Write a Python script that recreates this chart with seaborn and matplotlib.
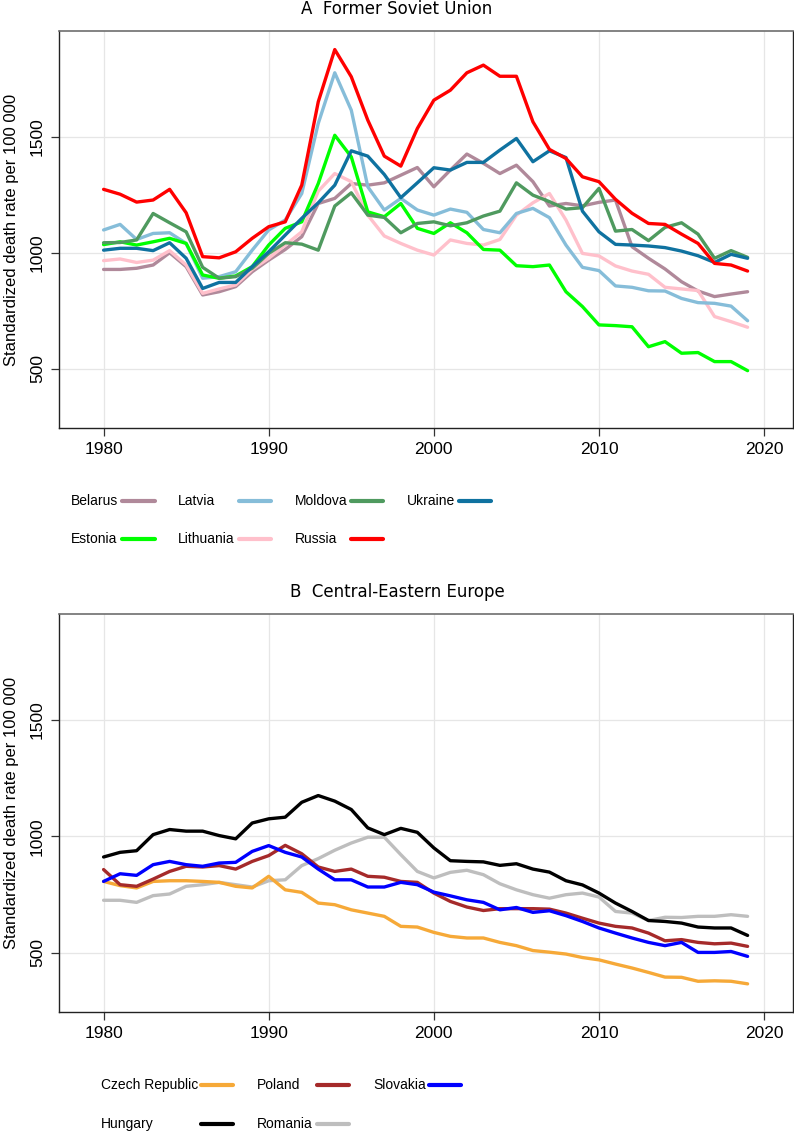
import numpy as np
import pandas as pd
import seaborn as sns
import matplotlib.pyplot as plt
from matplotlib.lines import Line2D

years = list(range(1980, 2020))

# A  Former Soviet Union
belarus = [928, 928, 933, 947, 1000, 940, 818, 832, 854, 918,
           968, 1014, 1069, 1212, 1234, 1298, 1291, 1301, 1334, 1367,
           1284, 1356, 1425, 1385, 1341, 1377, 1306, 1201, 1212, 1202,
           1217, 1227, 1026, 976, 930, 875, 835, 811, 822, 832]
estonia = [1035, 1047, 1033, 1047, 1062, 1040, 904, 890, 900, 940,
           1033, 1105, 1133, 1298, 1506, 1413, 1176, 1155, 1212, 1105,
           1083, 1129, 1086, 1014, 1011, 944, 940, 947, 832, 768,
           689, 686, 681, 595, 617, 567, 570, 531, 531, 492]
latvia = [1098, 1122, 1057, 1083, 1086, 1040, 890, 897, 918, 1011,
          1098, 1141, 1255, 1557, 1775, 1614, 1284, 1184, 1234, 1184,
          1162, 1188, 1174, 1100, 1086, 1169, 1191, 1151, 1033, 937,
          923, 857, 851, 836, 835, 803, 785, 782, 770, 707]
lithuania = [966, 973, 958, 968, 1009, 947, 825, 844, 861, 928,
             976, 1033, 1090, 1265, 1341, 1306, 1162, 1072, 1040, 1011,
             990, 1055, 1040, 1033, 1057, 1162, 1215, 1255, 1141, 997,
             986, 943, 921, 907, 851, 844, 837, 725, 703, 679]
moldova = [1043, 1044, 1055, 1169, 1129, 1090, 937, 890, 897, 933,
           997, 1043, 1037, 1011, 1201, 1258, 1162, 1152, 1086, 1126,
           1133, 1116, 1129, 1158, 1179, 1301, 1248, 1220, 1188, 1194,
           1277, 1093, 1100, 1052, 1109, 1129, 1080, 976, 1009, 980]
russia = [1273, 1252, 1218, 1227, 1273, 1172, 983, 978, 1004, 1062,
          1112, 1133, 1291, 1650, 1875, 1758, 1571, 1416, 1373, 1535,
          1657, 1700, 1775, 1808, 1760, 1760, 1564, 1445, 1406, 1327,
          1306, 1230, 1170, 1126, 1122, 1080, 1040, 954, 947, 921]
ukraine = [1011, 1019, 1019, 1009, 1043, 976, 846, 872, 872, 940,
           1004, 1076, 1148, 1215, 1291, 1439, 1416, 1337, 1237, 1301,
           1366, 1356, 1389, 1389, 1442, 1492, 1392, 1439, 1410, 1179,
           1090, 1036, 1033, 1029, 1022, 1007, 987, 958, 993, 976]

# B  Central-Eastern Europe
czech = [806, 788, 778, 806, 809, 809, 806, 802, 785, 778,
         828, 770, 759, 713, 706, 684, 670, 656, 613, 610,
         587, 570, 563, 563, 544, 530, 509, 502, 494, 479,
         469, 451, 434, 415, 395, 394, 377, 379, 377, 366]
hungary = [911, 931, 938, 1007, 1029, 1022, 1022, 1003, 989, 1057,
           1075, 1082, 1146, 1175, 1151, 1115, 1036, 1007, 1034, 1017,
           950, 895, 892, 890, 875, 882, 859, 846, 809, 791,
           756, 713, 677, 638, 634, 627, 610, 606, 606, 574]
poland = [857, 792, 785, 816, 849, 871, 868, 874, 859, 892,
          917, 961, 925, 868, 849, 859, 828, 824, 806, 802,
          756, 720, 696, 681, 689, 689, 689, 687, 670, 648,
          627, 613, 606, 584, 551, 556, 544, 538, 541, 527]
romania = [725, 725, 716, 745, 752, 785, 792, 802, 792, 782,
           809, 813, 874, 904, 940, 971, 996, 996, 921, 849,
           821, 845, 854, 835, 796, 770, 749, 734, 749, 756,
           739, 677, 670, 638, 652, 651, 656, 656, 663, 656]
slovakia = [806, 839, 832, 878, 892, 878, 871, 885, 888, 935,
            960, 931, 911, 859, 813, 813, 782, 782, 802, 792,
            760, 744, 727, 716, 684, 694, 673, 680, 659, 634,
            606, 584, 563, 544, 530, 544, 501, 501, 505, 484]

fsu_names = ["Belarus", "Estonia", "Latvia", "Lithuania", "Moldova", "Russia", "Ukraine"]
fsu_values = [belarus, estonia, latvia, lithuania, moldova, russia, ukraine]
fsu_colors = ["#B0899A", "#00FF00", "#86BDD9", "#FFC0CB", "#4F9A5F", "#FF0000", "#0F72A0"]
fsu_draw = ["Belarus", "Lithuania", "Latvia", "Estonia", "Moldova", "Ukraine", "Russia"]

cee_names = ["Czech Republic", "Hungary", "Poland", "Romania", "Slovakia"]
cee_values = [czech, hungary, poland, romania, slovakia]
cee_colors = ["#F6A938", "#000000", "#A52A2A", "#BEBEBE", "#0000FF"]
cee_draw = ["Romania", "Czech Republic", "Poland", "Slovakia", "Hungary"]


def long_table(names, values):
    df = pd.DataFrame(dict(zip(names, values)))
    df["year"] = years
    return df.melt(id_vars="year", var_name="country", value_name="rate")


sns.set_style("white")
plt.rcParams["font.family"] = ["Liberation Sans", "DejaVu Sans"]
plt.rcParams["text.color"] = "black"
plt.rcParams["axes.labelcolor"] = "black"
plt.rcParams["xtick.color"] = "black"
plt.rcParams["ytick.color"] = "black"

W, H = 794, 1136
fig = plt.figure(figsize=(W / 100, H / 100), dpi=100)


def px(x, y):
    return x / W, 1 - y / H


def panel(top, bottom, title, title_y, names, values, colors, draw_order,
          leg_rows, leg_text_x, leg_handles):
    ax = fig.add_axes([59 / W, 1 - bottom / H, 734 / W, (bottom - top) / H])
    df = long_table(names, values)
    pal = dict(zip(names, colors))
    sns.lineplot(data=df, x="year", y="rate", hue="country", hue_order=draw_order,
                 palette=pal, lw=2.4, legend=False, ax=ax,
                 solid_capstyle="round", solid_joinstyle="round")
    ax.set_xlim(1977.3, 2021.75)
    ax.set_ylim(245, 1955)
    ax.set_xticks([1980, 1990, 2000, 2010, 2020])
    ax.set_yticks([500, 1000, 1500])
    ax.grid(True, color="#E6E6E6", lw=0.9)
    ax.set_axisbelow(True)
    ax.tick_params(axis="both", direction="out", length=5.5, width=0.9,
                   color="#333333", labelsize=12.5, pad=4.5,
                   left=True, bottom=True)
    for lab in ax.get_yticklabels():
        lab.set_rotation(90)
        lab.set_va("center")
    ax.set_xlabel("")
    ax.set_ylabel("Standardized death rate per 100 000", fontsize=12)
    ax.yaxis.set_label_coords(-0.055, 0.5)
    for side in ["left", "bottom", "right"]:
        ax.spines[side].set_color("#222222")
        ax.spines[side].set_linewidth(1.0)
    ax.spines["top"].set_color("#6E6E6E")
    ax.spines["top"].set_linewidth(1.2)
    fig.text(0.5, 1 - title_y / H, title, ha="center", va="center", fontsize=12,
             family=["DejaVu Sans"])

    # legend, text first then line, filled column by column
    nrows = len(leg_rows)
    for i, name in enumerate(names):
        col, row = divmod(i, nrows)
        tx, ty = px(leg_text_x[col], leg_rows[row])
        fig.text(tx, ty, name, ha="left", va="center", fontsize=10)
        x0, x1 = leg_handles[col]
        fig.add_artist(Line2D([x0 / W, x1 / W], [ty, ty], color=pal[name], lw=3.0,
                              solid_capstyle="round", transform=fig.transFigure))
    return ax


panel(31, 428, "A  Former Soviet Union", 9, fsu_names, fsu_values, fsu_colors, fsu_draw,
      [501, 539], [71, 178, 295, 407], [(122, 155), (239, 271), (351, 383), (459, 491)])
panel(614, 1012, "B  Central-Eastern Europe", 592, cee_names, cee_values, cee_colors, cee_draw,
      [1085, 1124], [101, 257, 373], [(201, 233), (317, 349), (429, 461)])

fig.savefig("out.png", dpi=100)
